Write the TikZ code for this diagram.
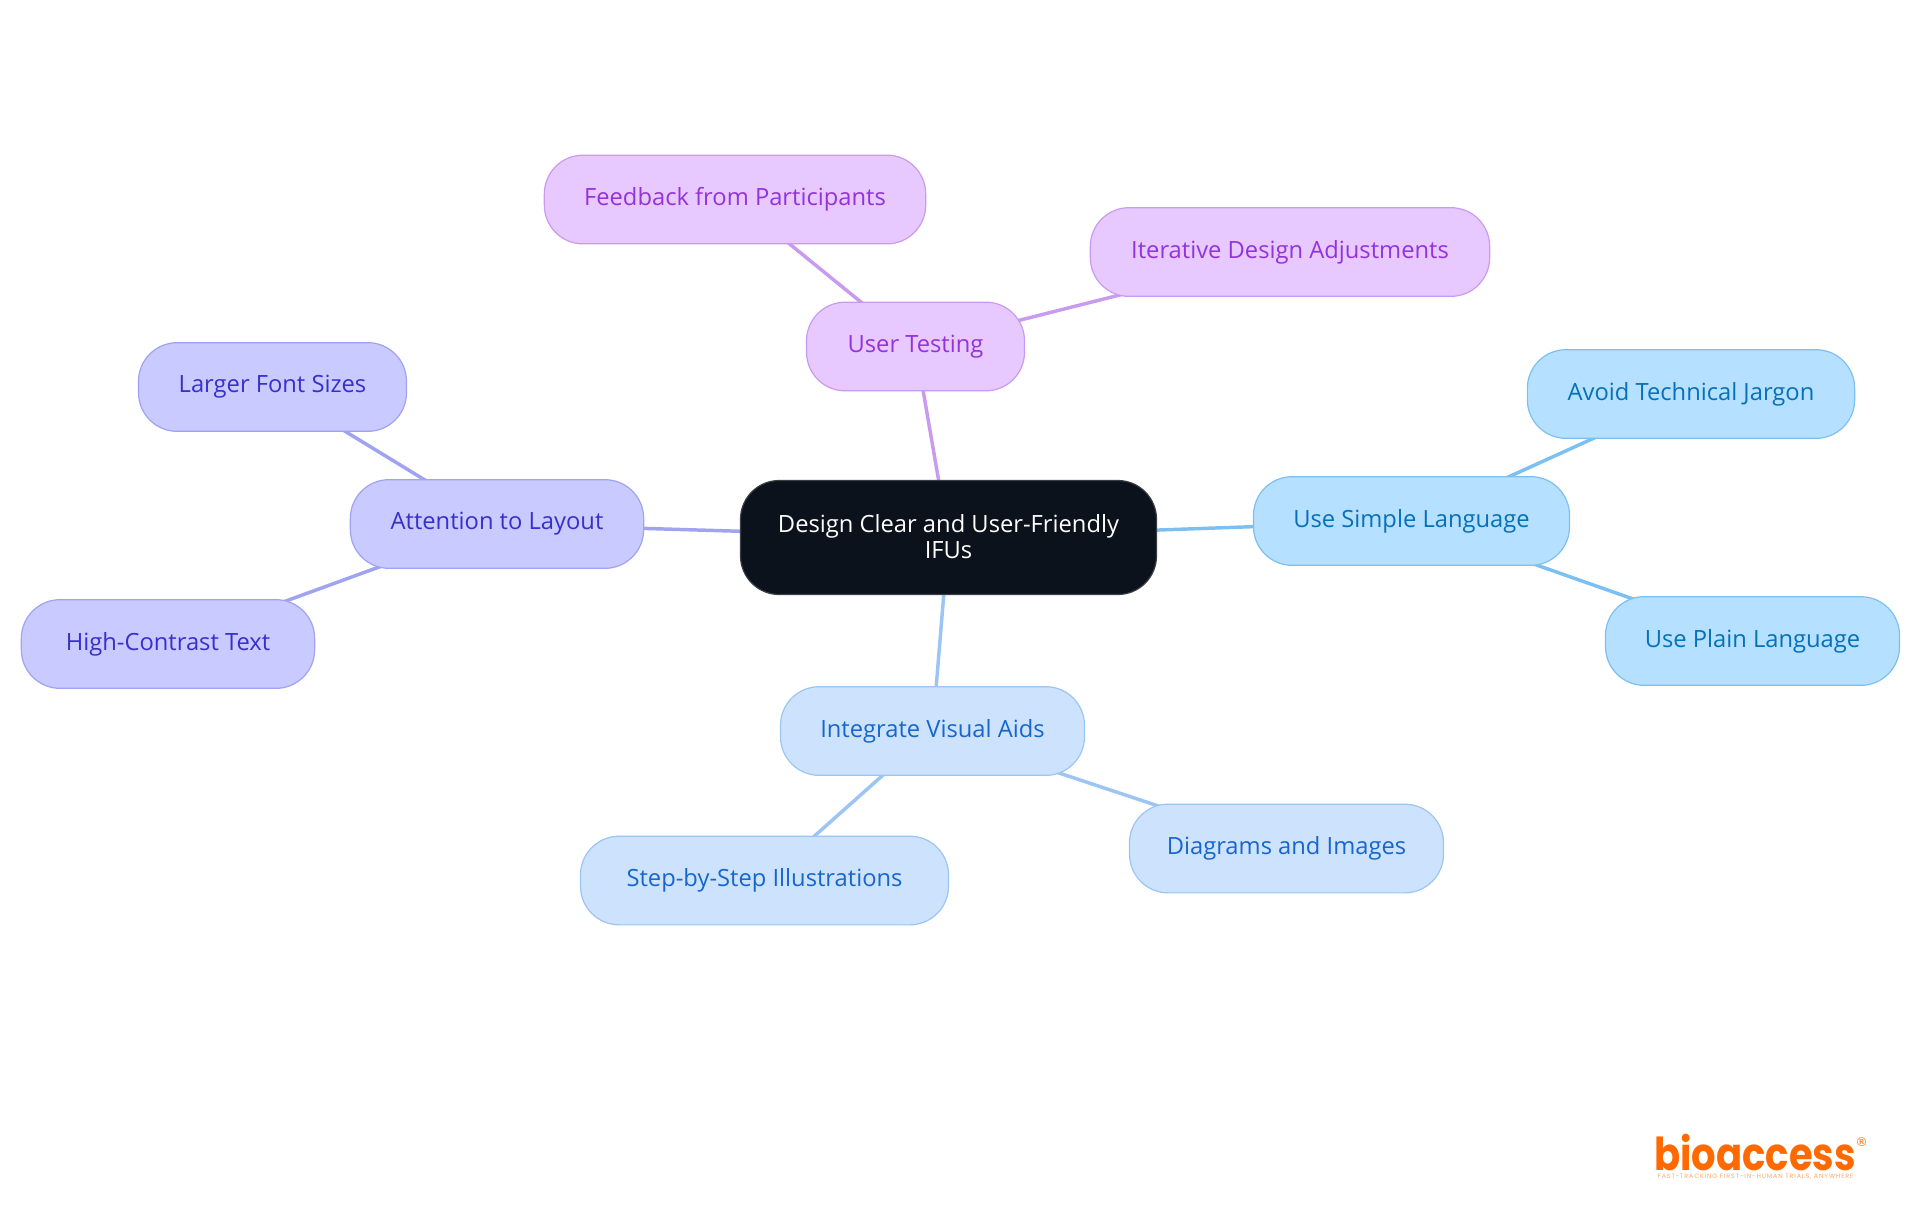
\documentclass[tikz,border=0pt]{standalone}
\usepackage{graphicx}
\usepackage{fontspec}
\usetikzlibrary{backgrounds}
\setmainfont{Open Sans}
\newfontfamily\logofont{Poppins}
\newfontfamily\tagfont[LetterSpace=14.5]{Poppins}
\newfontfamily\markfont{DejaVu Sans}

\definecolor{rootfill}{HTML}{0B121B}
\definecolor{rootline}{HTML}{3A3F46}
\definecolor{purplefill}{HTML}{E8C9FF}
\definecolor{purpleline}{HTML}{C99BF0}
\definecolor{purpletext}{HTML}{9333DB}
\definecolor{indigofill}{HTML}{C9CAFF}
\definecolor{indigoline}{HTML}{A0A2F2}
\definecolor{indigotext}{HTML}{3730CC}
\definecolor{skyfill}{HTML}{B6E0FF}
\definecolor{skyline}{HTML}{7CC0F2}
\definecolor{skytext}{HTML}{0670B8}
\definecolor{bluefill}{HTML}{CDE3FD}
\definecolor{blueline}{HTML}{9CC5F3}
\definecolor{bluetext}{HTML}{1766CC}
\definecolor{logoorange}{HTML}{FF6A00}

\tikzset{
  box/.style={draw, line width=0.9pt, rounded corners=29pt, align=center, inner sep=0pt, font=\fontsize{17.8}{19.3}\selectfont},
  rootbox/.style={box, fill=rootfill, draw=rootline, text=white, minimum width=312pt, minimum height=85.5pt},
  childbox/.style={box, minimum height=66.5pt},
  purplebox/.style={childbox, fill=purplefill, draw=purpleline, text=purpletext},
  indigobox/.style={childbox, fill=indigofill, draw=indigoline, text=indigotext},
  skybox/.style={childbox, fill=skyfill, draw=skyline, text=skytext},
  bluebox/.style={childbox, fill=bluefill, draw=blueline, text=bluetext},
  purpleedge/.style={draw=purpleline, line width=2.6pt},
  indigoedge/.style={draw=indigoline, line width=2.6pt},
  skyedge/.style={draw=skyline, line width=2.6pt},
  blueedge/.style={draw=blueline, line width=2.6pt},
}

\begin{document}
\begin{tikzpicture}[x=0.75pt, y=-0.75pt]
  \useasboundingbox (0,0) rectangle (1920,1215);

  \node[rootbox] (root) at (948.5,537.5) {\raisebox{1pt}{Design Clear and User-Friendly}\\\raisebox{1pt}{IFUs}};

  \node[purplebox, minimum width=163.5pt] (testing) at (915.5,346.5) {User Testing};
  \node[purplebox, minimum width=286pt] (feedback) at (735,199.5) {Feedback from Participants};
  \node[purplebox, minimum width=299.5pt] (iterative) at (1290,252) {Iterative Design Adjustments};

  \node[indigobox, minimum width=220pt] (layout) at (497,524) {Attention to Layout};
  \node[indigobox, minimum width=201pt] (larger) at (272.5,387) {Larger Font Sizes};
  \node[indigobox, minimum width=220pt] (contrast) at (168,644) {High-Contrast Text};

  \node[skybox, minimum width=237pt] (simple) at (1411.5,521) {Use Simple Language};
  \node[skybox, minimum width=245.5pt] (jargon) at (1691,394) {Avoid Technical Jargon};
  \node[skybox, minimum width=220.5pt] (plain) at (1752.5,641) {Use Plain Language};

  \node[bluebox, minimum width=228pt] (visual) at (932.5,731) {Integrate Visual Aids};
  \node[bluebox, minimum width=276pt] (illustrations) at (764.5,880.5) {Step-by-Step Illustrations};
  \node[bluebox, minimum width=235.5pt] (diagrams) at (1286.5,848.5) {Diagrams and Images};

  % connectors sit behind the boxes
  \begin{scope}[on background layer]
    \draw[purpleedge] (root.center) -- (testing.center);
    \draw[purpleedge] (testing.center) -- (feedback.center);
    \draw[purpleedge] (testing.center) -- (iterative.center);
    \draw[indigoedge] (root.center) -- (layout.center);
    \draw[indigoedge] (layout.center) -- (larger.center);
    \draw[indigoedge] (layout.center) -- (contrast.center);
    \draw[skyedge] (root.center) -- (simple.center);
    \draw[skyedge] (simple.center) -- (jargon.center);
    \draw[skyedge] (simple.center) -- (plain.center);
    \draw[blueedge] (root.center) -- (visual.center);
    \draw[blueedge] (visual.center) -- (illustrations.center);
    \draw[blueedge] (visual.center) -- (diagrams.center);
  \end{scope}

  % logo
  \node[text=logoorange, inner sep=0pt, anchor=base, font=\logofont\bfseries\fontsize{34}{34}\selectfont] (logo) at (1755,1170) {\scalebox{0.85}[1]{bioaccess}};
  \node[text=logoorange, inner sep=0pt, font=\markfont\fontsize{9}{9}\selectfont] (mark) at (1861.5,1142) {®};
  \node[text=logoorange!60, inner sep=0pt, font=\tagfont\fontsize{4.7}{5}\selectfont] (tagline) at (1755.5,1177) {FAST-TRACKING FIRST-IN-HUMAN TRIALS, ANYWHERE};
\end{tikzpicture}
\end{document}
